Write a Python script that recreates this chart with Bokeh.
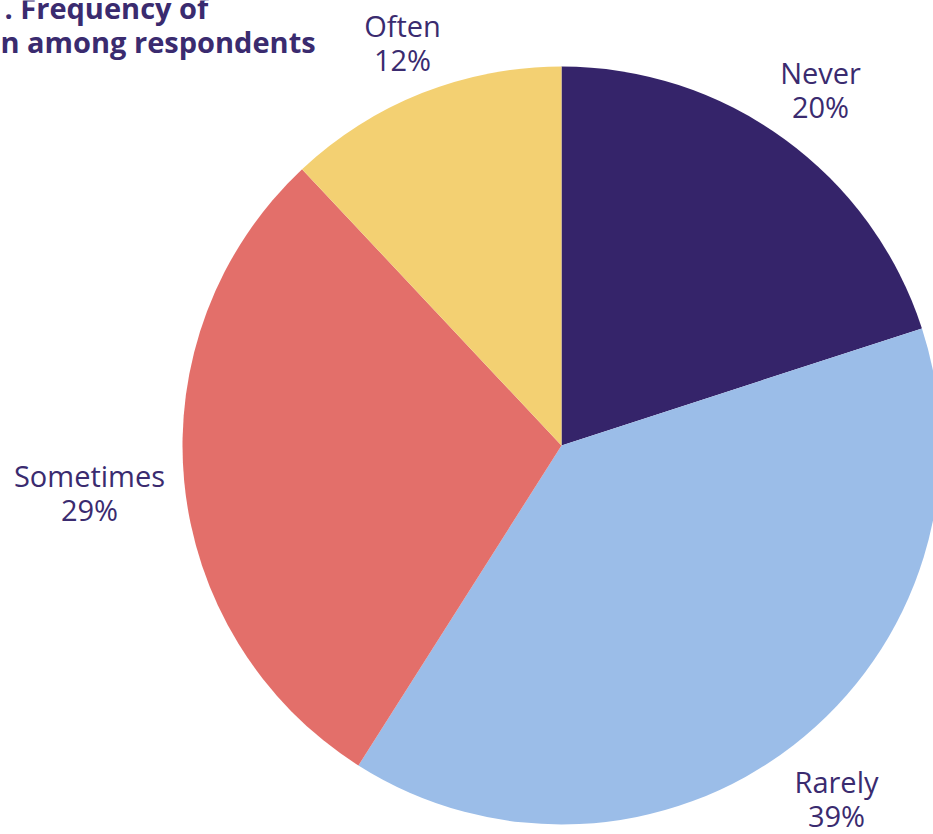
import numpy as np
from bokeh.plotting import figure
from bokeh.models import Range1d
from bokeh.core.properties import value
from bokeh.embed import file_html
from bokeh.resources import INLINE

categories = ["Never", "Rarely", "Sometimes", "Often"]
shares = [20, 39, 29, 12]
colors = ["#35246A", "#9BBDE8", "#E36F6A", "#F3D072"]
label_px = [(820, 89), (836, 798), (89, 492), (402, 42)]
title_lines = [". Frequency of", "n among respondents"]

W, H = 933, 834
p = figure(width=W, height=H, x_range=Range1d(0, W), y_range=Range1d(0, H),
           output_backend="svg", toolbar_location=None, min_border=0)
p.axis.visible = False
p.grid.visible = False
p.outline_line_color = None
p.background_fill_color = "white"
p.border_fill_color = "white"

cx, cy, r = 561, H - 445, 379
frac = np.array(shares, dtype=float) / sum(shares)
cum = np.concatenate([[0], np.cumsum(frac)])
starts = np.pi / 2 - 2 * np.pi * cum[:-1]
ends = np.pi / 2 - 2 * np.pi * cum[1:]
p.wedge(x=cx, y=cy, radius=r, start_angle=starts, end_angle=ends,
        direction="clock", fill_color=colors, line_color=None)

txt_color = "#3A2B6F"
fs = "29px"
for cat, s, (lx, ly) in zip(categories, shares, label_px):
    p.text(x=[lx], y=[H - ly + 17], text=[cat], text_align="center", text_baseline="middle",
           text_font=value("Open Sans"), text_font_size=fs, text_color=txt_color)
    p.text(x=[lx], y=[H - ly - 17], text=[f"{s}%"], text_align="center", text_baseline="middle",
           text_font=value("Open Sans"), text_font_size=fs, text_color=txt_color)

p.text(x=[4], y=[H - 7], text=[title_lines[0]], text_align="left", text_baseline="middle",
       text_font=value("Open Sans"), text_font_size="29px", text_font_style="bold", text_color=txt_color)
p.text(x=[0], y=[H - 41], text=[title_lines[1]], text_align="left", text_baseline="middle",
       text_font=value("Open Sans"), text_font_size="29px", text_font_style="bold", text_color=txt_color)

open("out.html", "w").write(file_html(p, INLINE))
